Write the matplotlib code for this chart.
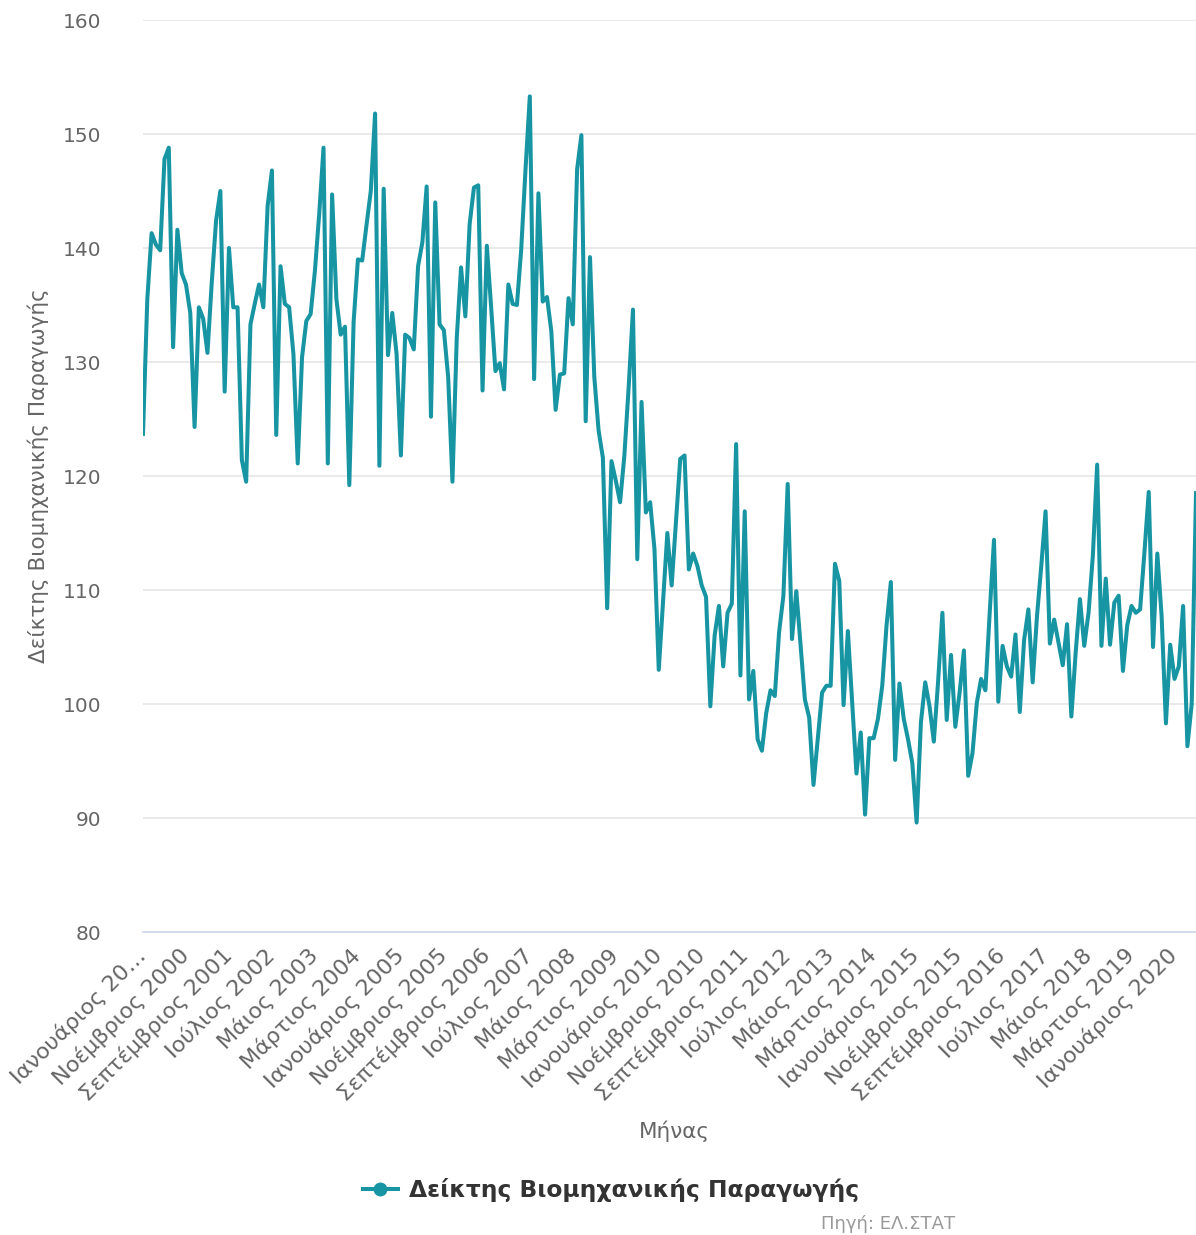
import matplotlib
matplotlib.use("Agg")
import matplotlib.pyplot as plt
import matplotlib.transforms as mtransforms
import numpy as np

# Δείκτης Βιομηχανικής Παραγωγής, μηνιαία τιμές από Ιανουάριο 2000
months_gr = ["Ιανουάριος", "Φεβρουάριος", "Μάρτιος", "Απρίλιος", "Μάιος", "Ιούνιος",
             "Ιούλιος", "Αύγουστος", "Σεπτέμβριος", "Οκτώβριος", "Νοέμβριος", "Δεκέμβριος"]

values = [
    123.7, 135.5, 141.3, 140.3, 139.8, 147.8, 148.8, 131.3, 141.6, 137.8, 136.8, 134.3,  # 2000
    124.3, 134.8, 133.8, 130.8, 137.0, 142.4, 145.0, 127.4, 140.0, 134.8, 134.8, 121.4,  # 2001
    119.5, 133.3, 135.1, 136.8, 134.8, 143.7, 146.8, 123.6, 138.4, 135.1, 134.8, 130.7,  # 2002
    121.1, 130.4, 133.6, 134.2, 138.0, 143.0, 148.8, 121.1, 144.7, 135.5, 132.4, 133.1,  # 2003
    119.2, 133.5, 139.0, 138.9, 142.0, 145.0, 151.8, 120.9, 145.2, 130.6, 134.3, 130.7,  # 2004
    121.8, 132.4, 132.1, 131.1, 138.4, 140.5, 145.4, 125.2, 144.0, 133.3, 132.8, 128.7,  # 2005
    119.5, 132.1, 138.3, 134.0, 142.1, 145.3, 145.5, 127.5, 140.2, 134.8, 129.2, 129.9,  # 2006
    127.6, 136.8, 135.1, 135.0, 139.9, 146.9, 153.3, 128.5, 144.8, 135.3, 135.7, 132.7,  # 2007
    125.8, 128.9, 129.0, 135.6, 133.3, 146.9, 149.9, 124.8, 139.2, 128.7, 124.0, 121.6,  # 2008
    108.4, 121.3, 119.6, 117.7, 121.8, 127.8, 134.6, 112.7, 126.5, 116.8, 117.7, 113.6,  # 2009
    103.0, 109.0, 115.0, 110.4, 116.0, 121.5, 121.8, 111.8, 113.2, 112.1, 110.4, 109.4,  # 2010
    99.8, 106.0, 108.6, 103.3, 108.0, 108.8, 122.8, 102.5, 116.9, 100.4, 102.9, 96.9,    # 2011
    95.9, 99.2, 101.2, 100.7, 106.3, 109.5, 119.3, 105.7, 109.9, 105.1, 100.4, 98.8,     # 2012
    92.9, 96.9, 101.0, 101.6, 101.6, 112.3, 110.8, 99.9, 106.4, 100.1, 93.9, 97.5,       # 2013
    90.3, 97.0, 97.0, 98.7, 101.6, 106.9, 110.7, 95.1, 101.8, 98.7, 96.9, 94.8,          # 2014
    89.6, 98.4, 101.9, 99.8, 96.7, 102.0, 108.0, 98.6, 104.3, 98.0, 101.0, 104.7,        # 2015
    93.7, 95.7, 100.1, 102.2, 101.2, 108.0, 114.4, 100.2, 105.1, 103.3, 102.4, 106.1,    # 2016
    99.3, 105.6, 108.3, 101.9, 107.7, 112.1, 116.9, 105.3, 107.4, 105.4, 103.4, 107.0,   # 2017
    98.9, 104.5, 109.2, 105.1, 108.0, 113.0, 121.0, 105.1, 111.0, 105.2, 108.9, 109.5,   # 2018
    102.9, 106.9, 108.6, 108.0, 108.3, 113.3, 118.6, 105.0, 113.2, 107.7, 98.3, 105.2,   # 2019
    102.2, 103.3, 108.6, 96.3, 100.0, 118.5,                                             # 2020
]

categories = [f"{months_gr[k % 12]} {2000 + k // 12}" for k in range(len(values))]
tick_step = 10
tick_labels = [categories[k] for k in range(0, len(values), tick_step)]
tick_labels[0] = "Ιανουάριος 20…"

line_color = "#1795a3"
text_color = "#666666"

fig = plt.figure(figsize=(11.96, 12.35), dpi=100)
ax = fig.add_axes([143 / 1196, 1 - 932 / 1235, (1196 - 143) / 1196, 912 / 1235])

x = np.arange(len(values))
ax.plot(x, values, color=line_color, linewidth=2.9, solid_joinstyle="round",
        label="Δείκτης Βιομηχανικής Παραγωγής", zorder=3)

ax.set_xlim(0, len(values) - 1)
ax.set_ylim(80, 160)
ax.set_yticks(np.arange(80, 161, 10))
ax.set_xticks(x[::tick_step])
ax.set_xticklabels(tick_labels, rotation=45, ha="right", va="top",
                   rotation_mode="anchor", fontsize=16, color=text_color)
ax.tick_params(axis="x", length=0, pad=9)
ax.tick_params(axis="y", length=0, pad=30, labelsize=14.5, labelcolor=text_color)

# nudge the rotated labels a little to the left, like the original
shift = mtransforms.ScaledTranslation(-8 / 100, 0, fig.dpi_scale_trans)
for lbl in ax.get_xticklabels():
    lbl.set_transform(lbl.get_transform() + shift)

ax.grid(axis="y", color="#e6e6e6", linewidth=1.2, zorder=0)
for side in ["top", "right", "left"]:
    ax.spines[side].set_visible(False)
ax.spines["bottom"].set_color("#ccd6eb")
ax.spines["bottom"].set_linewidth(1.2)

ax.set_ylabel("Δείκτης Βιομηχανικής Παραγωγής", fontsize=15.5, color=text_color)
ax.yaxis.set_label_coords(-0.089, 0.5)
ax.set_xlabel("Μήνας", fontsize=15.5, color=text_color)
ax.xaxis.set_label_coords(0.505, -0.207)

leg = fig.legend(handles=[plt.Line2D([], [], color=line_color, linewidth=2.9,
                                     marker="o", markersize=9)],
                 labels=["Δείκτης Βιομηχανικής Παραγωγής"],
                 loc="center", bbox_to_anchor=(611 / 1196, 1 - 1190 / 1235),
                 frameon=False, handlelength=1.5, handletextpad=0.5,
                 prop={"weight": "bold", "size": 16.8})
for t in leg.get_texts():
    t.set_color("#333333")

fig.text(888 / 1196, 1 - 1224 / 1235, "Πηγή: ΕΛ.ΣΤΑΤ", ha="center", va="center",
         fontsize=13, color="#999999")

fig.savefig("out.png", dpi=100, facecolor="white")
